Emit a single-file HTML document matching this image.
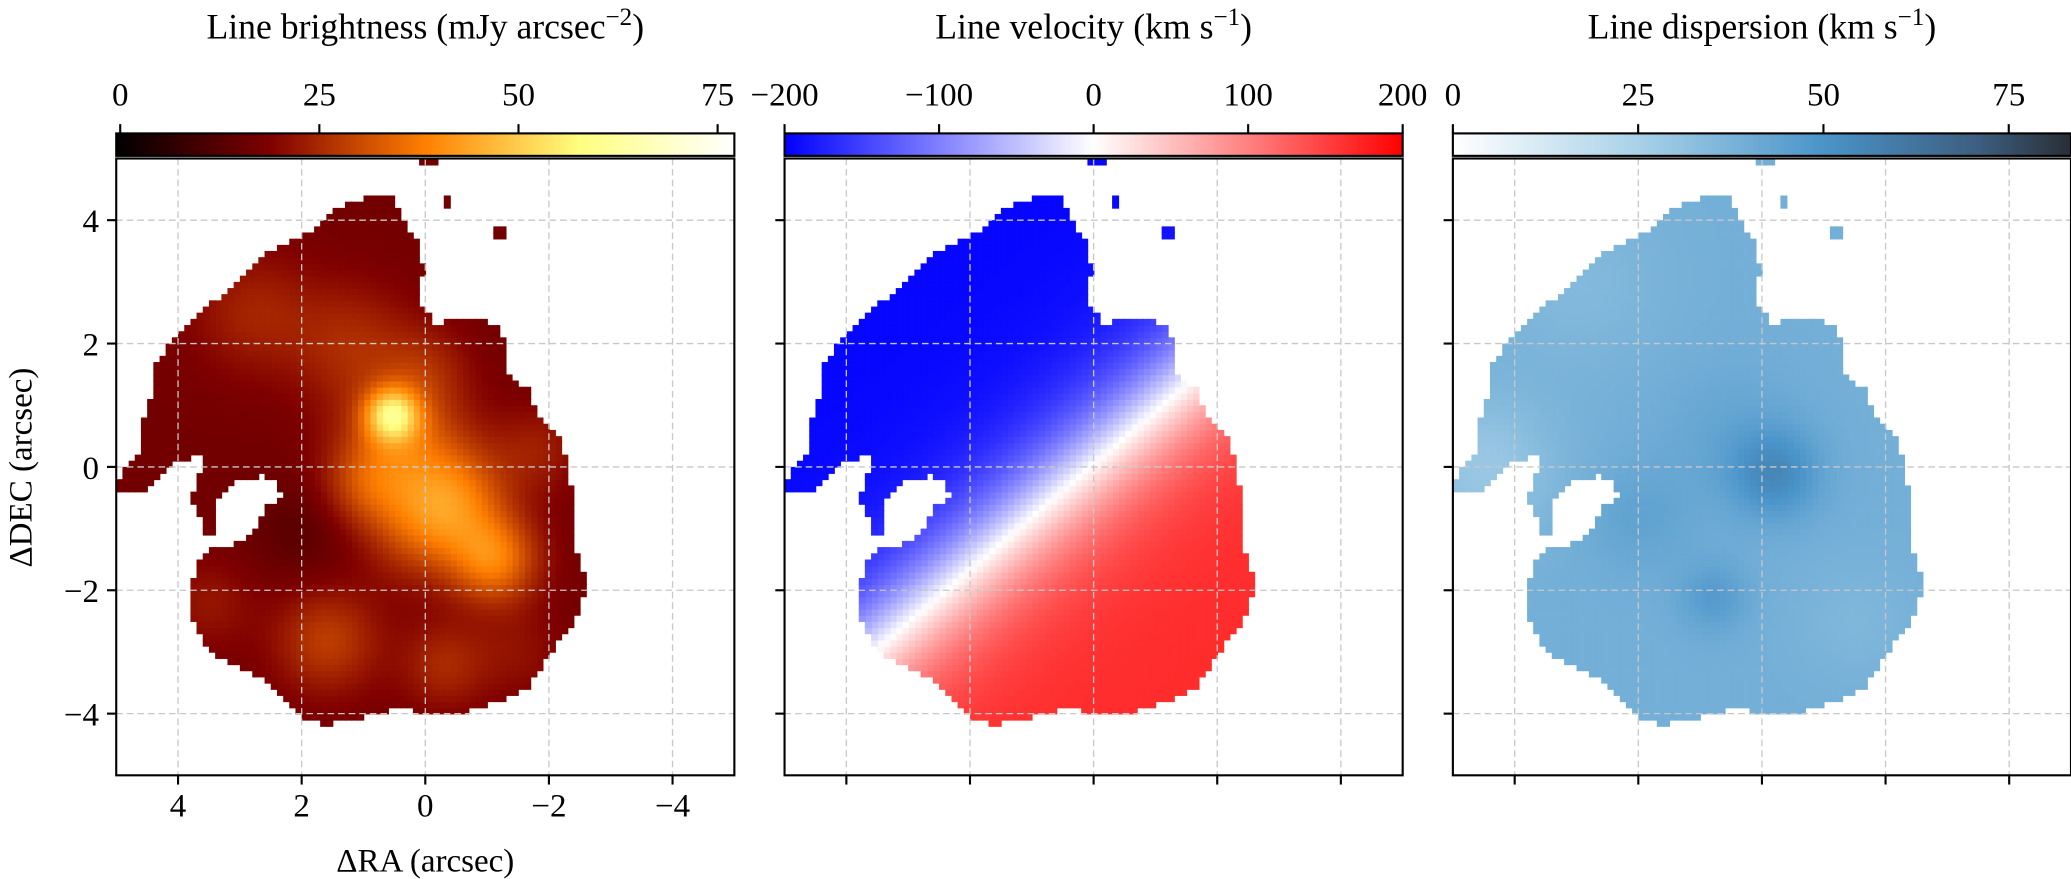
<!DOCTYPE html>
<html><head><meta charset="utf-8">
<style>
html,body{margin:0;padding:0;background:#fff;}
svg{display:block;font-family:"Liberation Serif",serif;}
</style></head>
<body>
<svg id="fig" width="2071" height="879" viewBox="0 0 1568 665.5" preserveAspectRatio="none" xmlns="http://www.w3.org/2000/svg">
<defs id="defs"></defs>
</svg>
<script>
// ---- data (arcsec) ----
const outline = [[1.86,3.82],[1.43,4.19],[1.0,4.36],[0.51,4.36],[0.36,4.04],[0.26,3.82],[0.09,3.6],[0.04,3.18],[0.09,2.64],[-0.17,2.32],[-0.6,2.43],[-1.13,2.32],[-1.3,2.0],[-1.35,1.47],[-1.67,1.26],[-1.77,0.93],[-2.2,0.4],[-2.31,-0.14],[-2.41,-0.46],[-2.41,-1.21],[-2.52,-1.64],[-2.63,-1.85],[-2.52,-2.17],[-2.41,-2.49],[-2.09,-2.92],[-1.88,-3.24],[-1.67,-3.57],[-1.24,-3.78],[-0.92,-3.89],[-0.49,-4.0],[0.04,-4.0],[0.47,-3.89],[0.79,-4.0],[1.22,-4.1],[1.65,-4.17],[1.97,-4.1],[2.29,-3.78],[2.61,-3.46],[3.03,-3.24],[3.46,-3.03],[3.78,-2.49],[3.78,-1.85],[3.68,-1.53],[3.46,-1.32],[2.93,-1.21],[2.71,-1.0],[2.61,-0.67],[2.39,-0.25],[2.61,-0.14],[3.14,-0.25],[3.35,-0.46],[3.46,-0.78],[3.72,-0.78],[3.78,-0.46],[3.68,-0.14],[3.57,0.18],[4.1,0.1],[4.42,-0.25],[4.57,-0.4],[4.96,-0.4],[5.0,-0.25],[4.85,-0.03],[4.64,0.18],[4.64,0.5],[4.49,0.93],[4.42,1.3],[4.42,1.57],[4.21,1.9],[3.89,2.22],[3.68,2.43],[3.35,2.75],[3.03,3.07],[2.71,3.39],[2.29,3.6]];
const islands = [[[0.1,5.0],[-0.25,5.0],[-0.25,4.85],[0.1,4.85]],[[-0.3,4.45],[-0.45,4.45],[-0.45,4.2],[-0.3,4.2]],[[-1.15,3.95],[-1.3,3.95],[-1.3,3.7],[-1.15,3.7]],[[3.65,-0.75],[3.45,-0.75],[3.45,-1.1],[3.65,-1.1]]];
const holes = [[[2.75,-0.32],[2.6,-0.2],[2.3,-0.5],[2.42,-0.62]]];
// brightness blobs: x, y, sigma, amplitude (mJy/arcsec^2)
const briX = [0.55,0.35,-0.5,-1.1,0.1,1.0,2.8,1.6,1.2,-0.3,3.5,-1.8,0.0,2.0,-1.5];
const briY = [0.85,0.4,-0.5,-1.5,-1.0,-0.3,2.5,-2.8,2.0,-3.2,-2.2,0.3,1.6,-1.0,-3.0];
const briS = [0.3,0.7,0.6,0.5,0.6,0.5,0.7,0.6,0.7,0.5,0.5,0.5,0.5,0.6,0.5];
const briA = [30,15,16,20,12,10,7,11,8,8,5,6,6,-4,4];
const briBase = 17;
// velocity disk model
const velMax = 195, velRt = 1.1, velRedScale = 0.85, velPA = [0.65,0.76], velOff = 0.05;
// dispersion blobs
const dspX = [-0.2,0.8,2.0,0.5,4.5,3.0,-1.5];
const dspY = [-0.1,-2.1,-0.8,0.5,0.0,3.0,-2.5];
const dspS = [0.5,0.4,0.6,0.8,0.8,1.0,0.7];
const dspA = [14,8,5,4,-10,-4,-3];
const dspBase = 39;
// colorbar ticks
const cb1Ticks=[0,25,50,75], cb1Range=[-0.5,77.1];
const cb2Ticks=[-200,-100,0,100,200], cb2Range=[-200,200];
const cb3Ticks=[0,25,50,75], cb3Range=[0,83.4];
const axTicks=[4,2,0,-2,-4];

const svg=document.getElementById('fig'), NS='http://www.w3.org/2000/svg';
function mk(tag,attrs,parent){const e=document.createElementNS(NS,tag);for(const k in attrs)e.setAttribute(k,attrs[k]);(parent||svg).appendChild(e);return e;}
const PX0=[88,594,1100], PW=468, PY0=120, PH=467;
const sx=PW/10, sy=PH/10;
function X(p,v){return PX0[p]+(5-v)*sx;}
function Y(v){return PY0+(5-v)*sy;}
function inPoly(x,y,poly){let c=false;for(let i=0,j=poly.length-1;i<poly.length;j=i++){const [xi,yi]=poly[i],[xj,yj]=poly[j];if(((yi>y)!=(yj>y))&&(x<(xj-xi)*(y-yi)/(yj-yi)+xi))c=!c;}return c;}
function inside(x,y){if(holes.some(h=>inPoly(x,y,h)))return false;return inPoly(x,y,outline)||islands.some(s=>inPoly(x,y,s));}
function blobs(x,y,X_,Y_,S,A,base){let v=base;for(let i=0;i<X_.length;i++){const d2=(x-X_[i])**2+(y-Y_[i])**2;v+=A[i]*Math.exp(-d2/(2*S[i]*S[i]));}return v;}
const cl=t=>Math.max(0,Math.min(1,t));
function afmhot(t){t=cl(t);return [cl(2*t),cl(2*t-0.5),cl(2*t-1)];}
function bwr(t){t=cl(t);return t<0.5?[2*t,2*t,1]:[1,2-2*t,2-2*t];}
const bstops=[[0,[1,1,1]],[0.3,[0.66,0.82,0.91]],[0.6,[0.29,0.58,0.79]],[0.85,[0.24,0.37,0.5]],[1,[0.16,0.18,0.21]]];
function blues(t){t=cl(t);for(let i=1;i<bstops.length;i++){if(t<=bstops[i][0]){const a=bstops[i-1],b=bstops[i],f=(t-a[0])/(b[0]-a[0]);return a[1].map((c,k)=>c+(b[1][k]-c)*f);}}return bstops[bstops.length-1][1];}
const rgb=c=>'rgb('+c.map(v=>Math.round(v*255)).join(',')+')';
function velocity(x,y){const p=velPA[0]*x+velPA[1]*y-velOff;let v=-velMax*Math.tanh(p/velRt);if(v>0)v*=velRedScale;return v;}
const fields=[
 {f:(x,y)=>blobs(x,y,briX,briY,briS,briA,briBase),cm:afmhot,r:cb1Range,name:'brightness'},
 {f:velocity,cm:bwr,r:cb2Range,name:'velocity'},
 {f:(x,y)=>blobs(x,y,dspX,dspY,dspS,dspA,dspBase),cm:blues,r:cb3Range,name:'dispersion'}];
const step=0.1;
const defs=document.getElementById('defs');
fields.forEach((F,p)=>{
  const g=mk('g',{});
  
  
  for(let x=-5+step/2;x<5;x+=step){for(let y=-5+step/2;y<5;y+=step){
    if(!inside(x,y))continue;
    const t=(F.f(x,y)-F.r[0])/(F.r[1]-F.r[0]);
    mk('rect',{x:(X(p,x)-sx*step/2).toFixed(1),y:(Y(y)-sy*step/2).toFixed(1),width:(sx*step+0.6).toFixed(1),height:(sy*step+0.6).toFixed(1),fill:rgb(F.cm(t))},g);
  }}
  const gg=mk('g',{stroke:'#c8c8c8','stroke-width':1,'stroke-dasharray':'5,3'});
  
  
  axTicks.forEach(v=>{mk('line',{x1:X(p,v),x2:X(p,v),y1:PY0,y2:PY0+PH},gg);mk('line',{x1:PX0[p],x2:PX0[p]+PW,y1:Y(v),y2:Y(v)},gg);});
  const fr=mk('rect',{x:PX0[p],y:PY0,width:PW,height:PH,fill:'none',stroke:'#000','stroke-width':1.6});
  
  
  axTicks.forEach(v=>{
    mk('line',{x1:X(p,v),x2:X(p,v),y1:PY0+PH,y2:PY0+PH+7,stroke:'#000','stroke-width':1.6});
    mk('line',{x1:PX0[p]-7,x2:PX0[p],y1:Y(v),y2:Y(v),stroke:'#000','stroke-width':1.6});
    if(p===0){
      const lab=v<0?'\u2212'+(-v):''+v;
      const tx=mk('text',{x:X(p,v),y:PY0+PH+31,'font-size':25,'text-anchor':'middle'});tx.textContent=lab;
      
      
      const ty=mk('text',{x:PX0[p]-13,y:Y(v)+9,'font-size':25,'text-anchor':'end'});ty.textContent=lab;
      
      
    }
  });
  const gid='cbg'+p;const lg=mk('linearGradient',{id:gid,x1:0,x2:1,y1:0,y2:0},defs);
  for(let i=0;i<=40;i++){mk('stop',{offset:i/40,'stop-color':rgb(F.cm(i/40))},lg);}
  const cb=mk('rect',{x:PX0[p],y:101,width:PW,height:17,fill:'url(#'+gid+')',stroke:'#000','stroke-width':1.6});
  
  
  const ticks=[cb1Ticks,cb2Ticks,cb3Ticks][p];
  ticks.forEach(v=>{
    const xx=PX0[p]+(v-F.r[0])/(F.r[1]-F.r[0])*PW;
    mk('line',{x1:xx,x2:xx,y1:94,y2:101,stroke:'#000','stroke-width':1.6});
    const t=mk('text',{x:xx,y:80,'font-size':25,'text-anchor':'middle'});t.textContent=v<0?'\u2212'+(-v):''+v;
    
    
  });
});
const titles=[['Line brightness (mJy arcsec','\u22122',')'],['Line velocity (km s','\u22121',')'],['Line dispersion (km s','\u22121',')']];
titles.forEach((tt,p)=>{
  const t=mk('text',{x:PX0[p]+PW/2,y:29,'font-size':27,'text-anchor':'middle'});
  
  
  t.appendChild(document.createTextNode(tt[0]));
  const s=mk('tspan',{dy:-10,'font-size':19},t);s.textContent=tt[1];
  const e=mk('tspan',{dy:10},t);e.textContent=tt[2];
});
const xl=mk('text',{x:322,y:660,'font-size':25,'text-anchor':'middle'});xl.textContent='\u0394RA (arcsec)';


const yl=mk('text',{x:0,y:0,'font-size':25,'text-anchor':'middle',transform:'translate(24,354) rotate(-90)'});yl.textContent='\u0394DEC (arcsec)';


</script>
</body></html>
